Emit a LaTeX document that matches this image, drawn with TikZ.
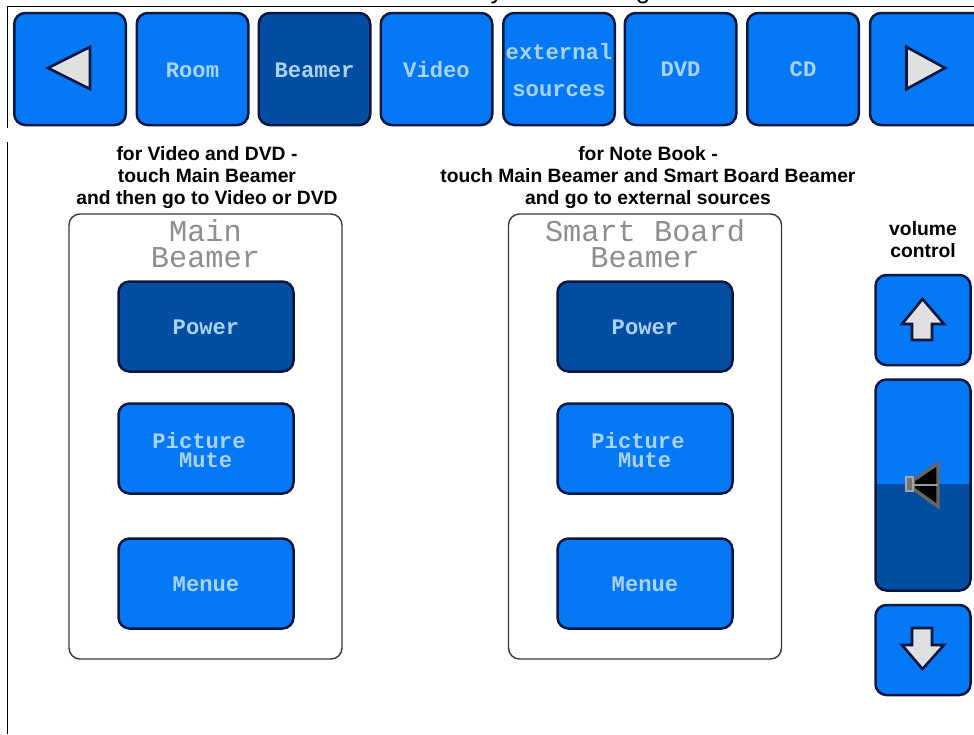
\documentclass[tikz,border=0pt]{standalone}
\usepackage{fontspec}
\setmainfont{Liberation Sans}
\newfontfamily\btnfamily{Liberation Mono}
\definecolor{btnblue}{HTML}{0578F5}
\definecolor{btndark}{HTML}{034EA2}
\definecolor{btnline}{HTML}{07173F}
\definecolor{btntext}{HTML}{A9D2F5}
\definecolor{titlegray}{HTML}{8E8E8E}
\definecolor{glyphfill}{HTML}{E0E0E0}
\definecolor{frameline}{HTML}{3A3A3A}
\tikzset{
  btn/.style={draw=btnline,line width=2.5pt,fill=btnblue,rounded corners=11pt,inner sep=0pt,outer sep=0pt,
    text=btntext,align=center,font=\btnfamily\bfseries\fontsize{22.2}{22.2}\selectfont},
  btndown/.style={btn,fill=btndark},
  lbl/.style={text height=17pt,text depth=0pt},
  padlbl/.style={text height=15.5pt,text depth=0pt},
  navbtn/.style={minimum width=111.5pt,minimum height=112pt},
  padbtn/.style={minimum width=175pt,minimum height=90pt},
  volbtn/.style={minimum width=95pt},
  overlay text/.style={inner sep=0pt,outer sep=0pt,text=btntext,align=left,font=\btnfamily\bfseries\fontsize{22.2}{19}\selectfont},
  groupbox/.style={draw=frameline,line width=1.4pt,rounded corners=11pt,fill=white,minimum width=273pt,minimum height=445pt,inner sep=0pt,outer sep=0pt},
  grouptitle/.style={inner sep=0pt,text=titlegray,align=center,font=\btnfamily\fontsize{30.3}{26}\selectfont},
  hint/.style={inner sep=0pt,text=black,align=center,font=\bfseries\fontsize{19.3}{22}\selectfont},
  glyph/.style={draw=btnline,line width=2.6pt,fill=glyphfill,line join=miter},
  rule/.style={draw=black,line width=1.5pt},
}
\begin{document}
\begin{tikzpicture}[x=1pt,y=-1pt]
\clip (0,0) rectangle (974,734);
\fill[white] (0,0) rectangle (974,734);
% cut-off caption above the frame
\begin{scope}
  \clip (0,0) rectangle (974,5.5);
  \node[anchor=base,inner sep=0pt,font=\fontsize{26}{26}\selectfont] (captiony) at (497,-2) {y};
  \node[anchor=base,inner sep=0pt,font=\fontsize{26}{26}\selectfont] (captiong) at (643,-2) {g};
\end{scope}
% frame lines
\draw[rule] (7.5,128) -- (7.5,6.5) -- (974,6.5);
\draw[rule] (7.5,142) -- (7.5,734);
% navigation row
\node[btn,navbtn] (back) at (70,69) {};
\node[btn,navbtn,lbl] (room) at (192.5,69) {Room};
\node[btndown,navbtn,lbl] (beamer) at (314.5,69) {Beamer};
\node[btn,navbtn,lbl] (video) at (436.5,69) {Video};
\node[btn,navbtn] (external) at (559,69) {};
\node[overlay text,align=center,font=\btnfamily\bfseries\fontsize{22.2}{37}\selectfont] (externaltext) at (559,70) {external\\[0.5pt]sources};
\node[btn,navbtn,text height=15pt,text depth=0pt] (dvd) at (680.5,69) {DVD};
\node[btn,navbtn,text height=15pt,text depth=0pt] (cd) at (803,69) {CD};
\node[btn,navbtn,minimum width=116pt] (forward) at (928,69) {};
\draw[glyph] (48,68) -- (90,47) -- (90,89) -- cycle;
\draw[glyph] (945,68) -- (906.5,47) -- (906.5,89) -- cycle;
% hints
\node[hint] (hintleft) at (207,178) {for Video and DVD -\\touch Main Beamer\\and then go to Video or DVD};
\node[hint] (hintright) at (648,178) {for Note Book -\\touch Main Beamer and Smart Board Beamer\\and go to external sources};
\node[hint] (hintvol) at (923,240) {volume\\control};
% main beamer group
\node[groupbox] (maingroup) at (205.5,436.5) {};
\node[grouptitle] (maintitle) at (205.5,244) {Main\\Beamer};
\node[btndown,padbtn,padlbl] (mainpower) at (206,326.5) {Power};
\node[btn,padbtn] (mainpicture) at (206,448.5) {};
\node[overlay text] (mainpicturetext) at (199,450) {Picture\\\hspace*{1.2em}Mute};
\node[btn,padbtn,padlbl] (mainmenue) at (206,583.5) {Menue};
% smart board group
\node[groupbox] (smartgroup) at (645,436.5) {};
\node[grouptitle] (smarttitle) at (645,244) {Smart Board\\Beamer};
\node[btndown,padbtn,padlbl] (smartpower) at (645,326.5) {Power};
\node[btn,padbtn] (smartpicture) at (645,448.5) {};
\node[overlay text] (smartpicturetext) at (638,450) {Picture\\\hspace*{1.2em}Mute};
\node[btn,padbtn,padlbl] (smartmenue) at (645,583.5) {Menue};
% volume column
\node[btn,volbtn,minimum height=90pt] (volup) at (923,320) {};
\node[btn,volbtn,minimum height=211pt,path picture={\fill[btndark] (-60,-1) rectangle (60,120);}] (volslider) at (923,485) {};
\node[btn,volbtn,minimum height=90pt] (voldown) at (923,650) {};
\draw[glyph] (922.5,299) -- (944,324) -- (932,324) -- (932,340) -- (912,340) -- (912,324) -- (902,324) -- cycle;
\draw[glyph] (922.5,669) -- (944,645) -- (932,645) -- (932,628) -- (912,628) -- (912,645) -- (902,645) -- cycle;
% speaker
\draw[draw=black!60,line width=3.4pt,fill=black,line join=miter] (913.5,480) -- (938,463.5) -- (938,506.5) -- (913.5,489) -- cycle;
\draw[draw=black!40,line width=2pt] (913.5,484.5) -- (938,484.5);
\draw[draw=black!35,line width=1.6pt,fill=black!55] (906,477) rectangle (913,491);
\end{tikzpicture}
\end{document}
